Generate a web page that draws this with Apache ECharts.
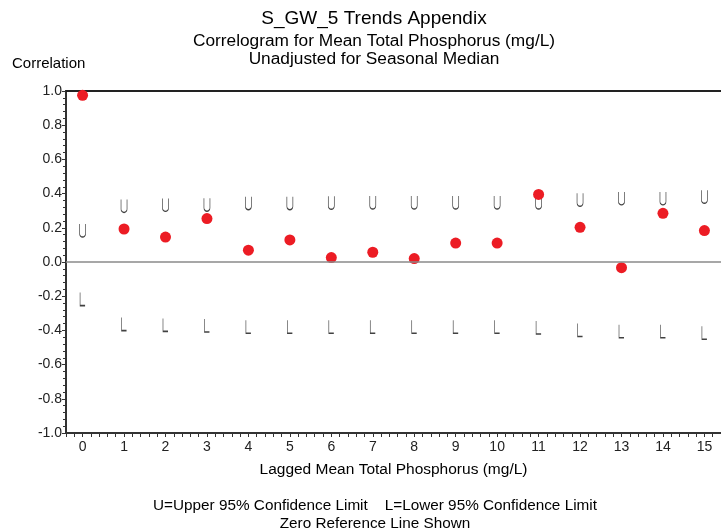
<!DOCTYPE html>
<html>
<head>
<meta charset="utf-8">
<script src="https://cdn.jsdelivr.net/npm/echarts@6/dist/echarts.min.js"></script>
<style>html,body{margin:0;padding:0;background:#fff;}#c{width:721px;height:531px;}</style>
</head>
<body>
<div id="c"></div>
<script>
var lags = [0,1,2,3,4,5,6,7,8,9,10,11,12,13,14,15];
var correlation = [0.975,0.193,0.146,0.254,0.069,0.129,0.026,0.057,0.020,0.111,0.111,0.395,0.203,-0.033,0.285,0.184];
var upperLimit = [0.184,0.328,0.334,0.335,0.344,0.344,0.346,0.348,0.348,0.348,0.348,0.348,0.364,0.372,0.372,0.381];
var lowerLimit = [-0.217,-0.363,-0.368,-0.371,-0.379,-0.379,-0.379,-0.379,-0.379,-0.379,-0.379,-0.383,-0.398,-0.405,-0.405,-0.414];

var FONT = '"Liberation Sans", Arial, sans-serif';
var CX = 369;
function pairs(vals){ return lags.map(function(l,i){ return [l, vals[i]]; }); }
function ttl(text, top, size, left, align){
  return {text: text, left: left, top: top, textAlign: align || 'center',
    textStyle: {fontFamily: FONT, fontSize: size, fontWeight: 'normal', color: '#000'}};
}

var chart = echarts.init(document.getElementById('c'), null, {renderer:'canvas'});
chart.setOption({
  animation: false,
  backgroundColor: '#fff',
  textStyle: {fontFamily: FONT},
  title: [
    ttl('S_GW_5 Trends Appendix', 4, 19, CX),
    ttl('Correlogram for Mean Total Phosphorus (mg/L)', 28, 17.3, CX),
    ttl('Unadjusted for Seasonal Median', 46, 17.3, CX),
    ttl('Correlation', 51, 15, 7, 'left'),
    ttl('U=Upper 95% Confidence Limit    L=Lower 95% Confidence Limit', 493, 15.3, CX + 1),
    ttl('Zero Reference Line Shown', 511, 15.3, CX + 1)
  ],
  grid: {left: 66, right: 0, top: 91, bottom: 98, containLabel: false, outerBoundsMode: 'none'},
  xAxis: [
    {type: 'value', min: -0.4, max: 15.4, interval: 0.2, position: 'bottom',
     name: 'Lagged Mean Total Phosphorus (mg/L)', nameLocation: 'middle', nameGap: 29,
     nameTextStyle: {fontFamily: FONT, fontSize: 15.5, color: '#000'},
     axisLine: {show: true, onZero: false, lineStyle: {color: '#333', width: 2}},
     axisTick: {show: true, inside: false, length: 4, lineStyle: {color: '#333', width: 1}},
     axisLabel: {show: true, margin: 7, fontFamily: FONT, fontSize: 14, color: '#222', hideOverlap: false,
       formatter: function(v){ var r = Math.round(v); return (Math.abs(v - r) < 1e-6 && lags.indexOf(r) >= 0) ? String(r) : ''; }},
     splitLine: {show: false}},
    {type: 'value', min: -0.4, max: 15.4, position: 'top',
     axisLine: {show: true, onZero: false, lineStyle: {color: '#222', width: 2}},
     axisTick: {show: false}, axisLabel: {show: false}, splitLine: {show: false}}
  ],
  yAxis: {type: 'value', min: -1, max: 1, interval: 0.2,
    axisLine: {show: true, onZero: false, lineStyle: {color: '#333', width: 2}},
    axisTick: {show: true, inside: false, length: 4, lineStyle: {color: '#333', width: 1}},
    minorTick: {show: true, splitNumber: 5, length: 3, lineStyle: {color: '#333', width: 1}},
    axisLabel: {margin: 4, fontFamily: FONT, fontSize: 14, color: '#222',
      formatter: function(v){ return (Math.abs(v) < 1e-9 ? 0 : v).toFixed(1); }},
    splitLine: {show: false}},
  series: [
    {type: 'scatter', name: 'Upper', data: pairs(upperLimit), xAxisIndex: 0,
     symbol: 'path://M0,0 L0,9 A3,3 0 0 0 6,9 L6,0', symbolSize: [6, 13],
     itemStyle: {color: 'rgba(0,0,0,0)', borderColor: '#111', borderWidth: 1},
     markLine: {silent: true, symbol: 'none', label: {show: false},
       lineStyle: {color: '#8a8a8a', width: 1.5, type: 'solid'},
       data: [{yAxis: 0}]}, z: 2},
    {type: 'scatter', name: 'Lower', data: pairs(lowerLimit), xAxisIndex: 0,
     symbol: 'path://M0,0 L0,12 L5,12', symbolSize: [5, 13],
     itemStyle: {color: 'rgba(0,0,0,0)', borderColor: '#111', borderWidth: 1}, z: 2},
    {type: 'scatter', name: 'Correlation', data: pairs(correlation), xAxisIndex: 0,
     symbol: 'circle', symbolSize: 11,
     itemStyle: {color: '#ec1c24', opacity: 1}, z: 3}
  ]
});
</script>
</body>
</html>
